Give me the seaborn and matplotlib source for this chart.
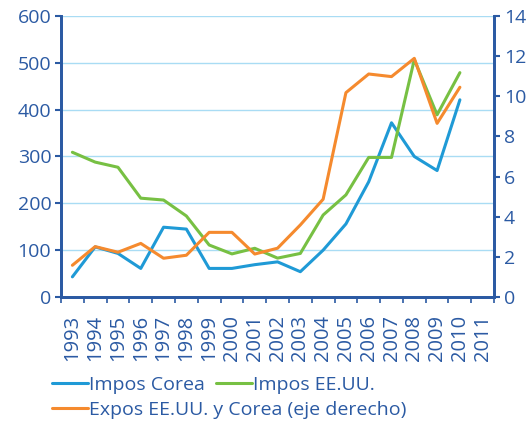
import numpy as np
import pandas as pd
import matplotlib
matplotlib.use("Agg")
import matplotlib.pyplot as plt
import seaborn as sns

# data
years = list(range(1993, 2012))
impos_corea = [43, 107, 93, 61, 149, 145, 61, 61, 69, 75, 54, 100, 156, 246, 372, 300, 270, 421]
impos_eeuu = [309, 288, 277, 211, 207, 173, 111, 92, 104, 83, 93, 175, 218, 298, 298, 507, 389, 479]
expos = [1.58, 2.51, 2.23, 2.67, 1.93, 2.08, 3.22, 3.22, 2.14, 2.43, 3.59, 4.87, 10.18, 11.11, 10.98, 11.89, 8.65, 10.45]

left_ticks = [0, 100, 200, 300, 400, 500, 600]
right_ticks = [0, 2, 4, 6, 8, 10, 12, 14]

blue = "#1f9ad6"
green = "#77c043"
orange = "#f58a2e"
navy = "#2b5aa3"
grid_c = "#a9dcf4"

sns.set_theme(style="white")
plt.rcParams['font.family'] = ['Open Sans', 'DejaVu Sans']

df = pd.DataFrame({"idx": np.arange(len(impos_corea)),
                   "corea": impos_corea, "eeuu": impos_eeuu, "expos": expos})

fig = plt.figure(figsize=(5.29, 4.23), dpi=100)
ax = fig.add_axes([0.1153, 0.2979, 0.8187, 0.6643])
ax2 = ax.twinx()

sns.lineplot(data=df, x="idx", y="corea", ax=ax, color=blue, lw=2.2, label="Impos Corea", legend=False)
sns.lineplot(data=df, x="idx", y="eeuu", ax=ax, color=green, lw=2.2, label="Impos EE.UU.", legend=False)
sns.lineplot(data=df, x="idx", y="expos", ax=ax2, color=orange, lw=2.2,
             label="Expos EE.UU. y Corea (eje derecho)", legend=False)

ax.set_xlim(-0.5, len(years) - 0.5)
ax.set_ylim(0, 600)
ax2.set_ylim(0, 14)
ax.set_yticks(left_ticks)
ax2.set_yticks(right_ticks)
ax.set_xticks(np.arange(len(years)))
ax.set_xticklabels([str(y) for y in years], rotation=90)
ax.set_xticks(np.arange(len(years) + 1) - 0.5, minor=True)

for a in (ax, ax2):
    a.set_xlabel("")
    a.set_ylabel("")
    a.spines["top"].set_visible(False)
    for s in ("left", "right", "bottom"):
        a.spines[s].set_color(navy)
        a.spines[s].set_linewidth(2)

ax.yaxis.grid(True, color=grid_c, lw=1)
ax.set_axisbelow(True)
ax.tick_params(axis="y", colors=navy, labelsize=14, length=4, width=1.5, left=True, pad=3)
ax2.tick_params(axis="y", colors=navy, labelsize=14, length=4, width=1.5, right=True, pad=3)
ax.tick_params(axis="x", which="major", colors=navy, labelsize=14.5, length=0, pad=13)
ax.tick_params(axis="x", which="minor", color=navy, length=4, width=1.2, bottom=True)

h1, l1 = ax.get_legend_handles_labels()
h2, l2 = ax2.get_legend_handles_labels()
leg_kw = dict(frameon=False, fontsize=14, handlelength=1.85, handletextpad=0.05,
              columnspacing=0.6, borderpad=0, borderaxespad=0, loc="center left")
leg1 = fig.legend(h1, l1, ncol=2, bbox_to_anchor=(0.098, 0.09), **leg_kw)
leg2 = fig.legend(h2, l2, ncol=1, bbox_to_anchor=(0.098, 0.031), **leg_kw)
for leg in (leg1, leg2):
    for t in leg.get_texts():
        t.set_color(navy)

fig.savefig("out.png", dpi=100)
